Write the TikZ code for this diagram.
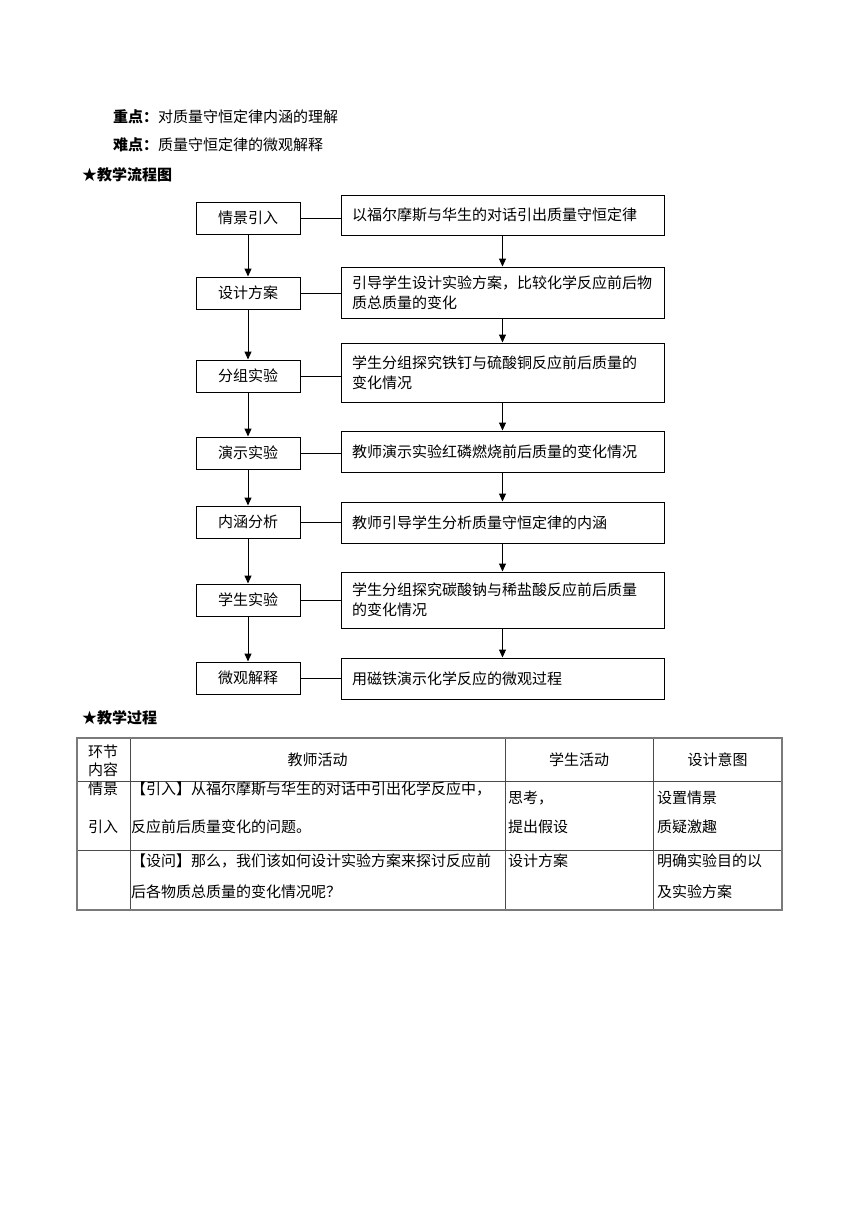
\documentclass[tikz,border=0pt]{standalone}
\usepackage{fontspec}
\setmainfont{Noto Sans CJK SC}
\usetikzlibrary{arrows.meta, positioning, calc}
\definecolor{tableline}{HTML}{4A4A4A}
\definecolor{tableedge}{HTML}{7A7A7A}
\newcommand{\flowfont}{\fontsize{15}{20}\selectfont}

\begin{document}
\begin{tikzpicture}[
    x=1pt, y=-1pt,
    >={Triangle[length=8pt, width=7pt]},
    % --- block styles ---
    stagebox/.style={
      draw, rectangle, line width=1pt,
      minimum width=104pt, minimum height=32pt,
      inner sep=0pt, font=\flowfont},
    actbox/.style={
      draw, rectangle, line width=1pt,
      text width=301pt, inner xsep=11pt, inner ysep=2pt,
      align=left, font=\flowfont},
    headtxt/.style={anchor=west, inner sep=0pt, font=\flowfont},
    cell/.style={anchor=west, inner sep=0pt, align=left},
    hcell/.style={inner sep=0pt, align=center, font=\flowfont},
    arr/.style={->, line width=1pt},
    link/.style={line width=1pt},
    grid/.style={line width=0.9pt, color=tableline},
  ]
  \useasboundingbox (0,0) rectangle (860,1216);

  % ── Key points and headings ──
  \node[headtxt] (keypt)  at (113,117) {\textbf{重点：}对质量守恒定律内涵的理解};
  \node[headtxt] (hardpt) at (113,145) {\textbf{难点：}质量守恒定律的微观解释};
  \node[headtxt] (flowhd) at (82,175)  {\textbf{★教学流程图}};

  % ── Teaching stages (left column) ──
  \node[stagebox] (intro)  at (248,218) {情景引入};
  \node[stagebox] (design) at (248,293) {设计方案};
  \node[stagebox] (group)  at (248,376) {分组实验};
  \node[stagebox] (demo)   at (248,453) {演示实验};
  \node[stagebox] (anal)   at (248,522) {内涵分析};
  \node[stagebox] (stud)   at (248,600) {学生实验};
  \node[stagebox] (micro)  at (248,678) {微观解释};

  % ── Activities (right column) ──
  \node[actbox, minimum height=40pt] (rintro)  at (502.5,215)
    {以福尔摩斯与华生的对话引出质量守恒定律};
  \node[actbox, minimum height=51pt] (rdesign) at (502.5,292.5)
    {引导学生设计实验方案，比较化学反应前后物\\质总质量的变化};
  \node[actbox, minimum height=59pt] (rgroup)  at (502.5,372.5)
    {学生分组探究铁钉与硫酸铜反应前后质量的\\变化情况};
  \node[actbox, minimum height=41pt] (rdemo)   at (502.5,451.5)
    {教师演示实验红磷燃烧前后质量的变化情况};
  \node[actbox, minimum height=41pt] (ranal)   at (502.5,522.5)
    {教师引导学生分析质量守恒定律的内涵};
  \node[actbox, minimum height=56pt] (rstud)   at (502.5,600)
    {学生分组探究碳酸钠与稀盐酸反应前后质量\\的变化情况};
  \node[actbox, minimum height=41pt] (rmicro)  at (502.5,678.5)
    {用磁铁演示化学反应的微观过程};

  % ── Flow arrows ──
  \draw[arr] (intro)  -- (design);
  \draw[arr] (design) -- (group);
  \draw[arr] (group)  -- (demo);
  \draw[arr] (demo)   -- (anal);
  \draw[arr] (anal)   -- (stud);
  \draw[arr] (stud)   -- (micro);
  \draw[arr] (rintro)  -- (rdesign);
  \draw[arr] (rdesign) -- (rgroup);
  \draw[arr] (rgroup)  -- (rdemo);
  \draw[arr] (rdemo)   -- (ranal);
  \draw[arr] (ranal)   -- (rstud);
  \draw[arr] (rstud)   -- (rmicro);

  % ── Stage to activity links ──
  \draw[link] (intro.east)  -- (intro.east  -| rintro.west);
  \draw[link] (design.east) -- (design.east -| rdesign.west);
  \draw[link] (group.east)  -- (group.east  -| rgroup.west);
  \draw[link] (demo.east)   -- (demo.east   -| rdemo.west);
  \draw[link] (anal.east)   -- (anal.east   -| ranal.west);
  \draw[link] (stud.east)   -- (stud.east   -| rstud.west);
  \draw[link] (micro.east)  -- (micro.east  -| rmicro.west);

  % ── Teaching process table ──
  \node[headtxt] (prochd) at (82,718) {\textbf{★教学过程}};
  \draw[grid] (77,781) -- (782,781);
  \draw[grid] (77,850) -- (782,850);
  \draw[grid] (130,738) -- (130,910);
  \draw[grid] (505,738) -- (505,910);
  \draw[grid] (653,738) -- (653,910);
  \draw[grid, line width=1.4pt, color=tableedge] (77,738) rectangle (782,910);

  \node[hcell, font=\fontsize{15}{18}\selectfont] (hsec) at (103,761) {环节\\内容};
  \node[hcell] (hteach) at (317.5,760) {教师活动};
  \node[hcell] (hstud)  at (579,760)   {学生活动};
  \node[hcell] (haim)   at (717.5,760) {设计意图};

  \node[hcell, font=\fontsize{15}{38}\selectfont] (sec1) at (103,808) {情景\\引入};
  \node[cell, font=\fontsize{15}{38}\selectfont] (teach1) at (131,808)
    {【引入】从福尔摩斯与华生的对话中引出化学反应中，\\反应前后质量变化的问题。};
  \node[cell, font=\fontsize{15}{29}\selectfont] (stud1) at (508,812.5) {思考，\\提出假设};
  \node[cell, font=\fontsize{15}{29}\selectfont] (aim1)  at (657,812.5) {设置情景\\质疑激趣};

  \node[cell, font=\fontsize{15}{31}\selectfont] (teach2) at (131,876.5)
    {【设问】那么，我们该如何设计实验方案来探讨反应前\\后各物质总质量的变化情况呢？};
  \node[cell, font=\flowfont] (stud2) at (508,861) {设计方案};
  \node[cell, font=\fontsize{15}{31}\selectfont] (aim2)  at (657,876.5) {明确实验目的以\\及实验方案};

\end{tikzpicture}
\end{document}
